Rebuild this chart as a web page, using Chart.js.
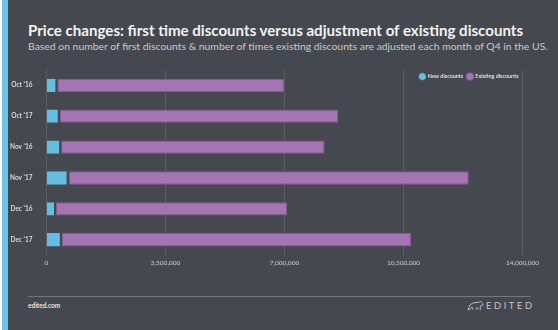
<!DOCTYPE html>
<html>
<head>
<meta charset="utf-8">
<script src="https://cdn.jsdelivr.net/npm/chart.js@4"></script>
<style>
  html, body { margin:0; padding:0; }
  body { width:558px; height:330px; background:#fff; position:relative; overflow:hidden; font-family:Lato, "Open Sans", sans-serif; }
  #card { position:absolute; left:2px; top:0; width:556px; height:330px; background:#45484f; }
  #strip { position:absolute; left:2px; top:0; width:6px; height:330px; background:#6fc3e6; }
  #title { position:absolute; left:28px; top:21px; color:#f2f2f2; font-size:15.1px; font-weight:700; white-space:nowrap; }
  #subtitle { position:absolute; left:28px; top:40px; color:#c9cacd; font-size:10.4px; white-space:nowrap; }
  #wrap { position:absolute; left:0; top:60px; width:558px; height:215px; }
  #rule { position:absolute; left:28px; top:295.5px; width:502.5px; height:1.5px; background:#74777d; }
  #foot { position:absolute; left:28px; top:301.5px; color:#e6e6e6; font-size:6.5px; font-weight:700; line-height:8px; }
  #logo { position:absolute; left:486px; top:300px; color:#c4c5c8; font-size:9.3px; letter-spacing:2.6px; line-height:11px; }
  #bear { position:absolute; left:467px; top:300px; }
</style>
</head>
<body>
<div id="card"></div>
<div id="strip"></div>
<div id="title">Price changes: first time discounts versus adjustment of existing discounts</div>
<div id="subtitle">Based on number of first discounts &amp; number of times existing discounts are adjusted each month of Q4 in the US.</div>
<div id="wrap"><canvas id="c"></canvas></div>
<div id="rule"></div>
<div id="foot">edited.com</div>
<svg id="bear" width="17" height="11" viewBox="0 0 17 11"><path d="M1 9.5 L3 5 Q5 2.5 9 2.5 L12 2.5 L13.5 1 L14.5 2.5 Q16 3.5 16 5 L14 5.5 L13 8 L13.5 10 M3 9.5 L5 7 L6 9.5 M9 9.5 L10 7.5 L11.5 9.5 M1 9.5 L3 9.5" fill="none" stroke="#c4c5c8" stroke-width="0.9"/></svg>
<div id="logo">EDITED</div>
<script>
const categories = ["Oct '16", "Oct '17", "Nov '16", "Nov '17", "Dec '16", "Dec '17"];
const newDiscounts = [320000, 390000, 430000, 650000, 280000, 450000];
const existingDiscounts = [6670000, 8190000, 7750000, 11770000, 6800000, 10270000];
const xTicks = [0, 3500000, 7000000, 10500000, 14000000];

const BG = '#45484f';

const legendFitPlugin = {
  id: 'legendFit',
  afterInit(chart) {
    const lg = chart.legend;
    const orig = lg.fit;
    lg.fit = function () {
      orig.bind(lg)();
      this.height = 0;
    };
  },
  afterLayout(chart) {
    const lg = chart.legend;
    lg.height = 26;
    lg.bottom = lg.top + 26;
  }
};

new Chart(document.getElementById('c'), {
  type: 'bar',
  data: {
    labels: categories,
    datasets: [
      {
        label: 'New discounts',
        data: newDiscounts,
        backgroundColor: '#65bde0',
        borderColor: BG,
        borderWidth: { left: 0, top: 0, bottom: 0, right: 2 },
        borderSkipped: false
      },
      {
        label: 'Existing discounts',
        data: existingDiscounts,
        backgroundColor: '#a574b3',
        borderColor: '#875a96',
        borderWidth: 1,
        borderSkipped: false
      }
    ]
  },
  options: {
    indexAxis: 'y',
    responsive: true,
    maintainAspectRatio: false,
    animation: false,
    devicePixelRatio: 1,
    layout: { padding: { left: 0, right: 35.5, top: 9, bottom: 4 } },
    datasets: { bar: { barPercentage: 1, categoryPercentage: 0.43 } },
    plugins: {
      legend: {
        position: 'top',
        align: 'end',
        labels: {
          usePointStyle: true,
          pointStyle: 'circle',
          boxWidth: 5.5,
          boxHeight: 5.5,
          padding: 4,
          color: '#e0e0e0',
          font: { family: 'Lato', size: 5.4, weight: 'bold' }
        }
      },
      tooltip: { enabled: false },
      title: { display: false }
    },
    scales: {
      x: {
        stacked: true,
        min: 0,
        max: 14000000,
        afterBuildTicks(scale) { scale.ticks = xTicks.map(v => ({ value: v })); },
        grid: { color: '#5a5d64', lineWidth: 1, drawTicks: false },
        border: { display: false },
        ticks: {
          color: '#d0d0d0',
          padding: 4,
          font: { family: 'Lato', size: 6.5 },
          callback: v => v.toLocaleString('en-US')
        }
      },
      y: {
        stacked: true,
        afterFit(scale) { scale.width = 46.5; },
        grid: { display: false },
        border: { display: false },
        ticks: {
          color: '#d8d8d8',
          padding: 6,
          font: { family: 'Lato', size: 6.5, weight: 'bold' }
        }
      }
    }
  },
  plugins: [legendFitPlugin]
});
</script>
</body>
</html>
